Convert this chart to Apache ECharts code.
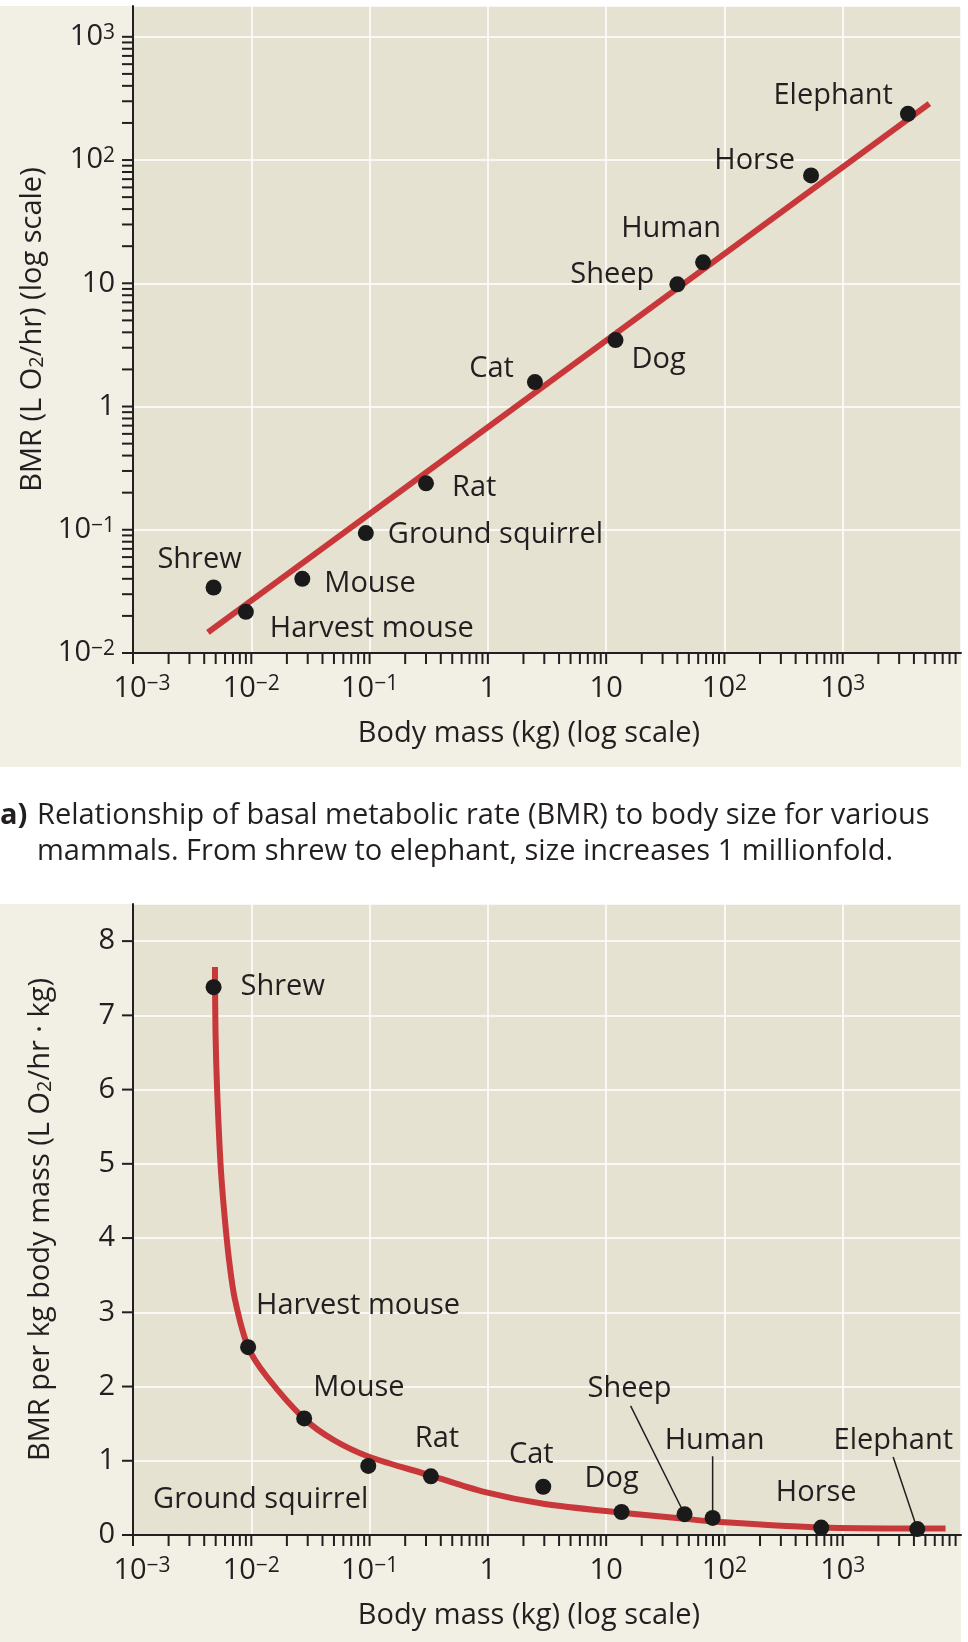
<!DOCTYPE html>
<html>
<head>
<meta charset="utf-8">
<title>BMR vs body mass</title>
<script src="https://cdn.jsdelivr.net/npm/echarts@6/dist/echarts.min.js"></script>
<style>
  html, body { margin: 0; padding: 0; background: #fff; }
  #chart { width: 968px; height: 1642px; }
</style>
</head>
<body>
<div id="chart"></div>
<script>
// animals, same order in both panels
const animals = ['Shrew', 'Harvest mouse', 'Mouse', 'Ground squirrel', 'Rat', 'Cat', 'Dog', 'Sheep', 'Human', 'Horse', 'Elephant'];

// panel a: body mass (kg) and BMR (L O2/hr)
const massA = [0.0048, 0.009, 0.027, 0.093, 0.30, 2.5, 12, 40, 66, 540, 3560];
const bmrA = [0.034, 0.0216, 0.040, 0.094, 0.238, 1.58, 3.46, 9.8, 14.8, 75, 237];
// fitted straight line (ends)
const fitMassA = [0.0043, 5400];
const fitBmrA = [0.0147, 287];

// panel b: BMR per kg body mass
const massB = [0.0048, 0.0094, 0.028, 0.0975, 0.33, 2.94, 13.5, 46, 79.5, 658, 4270];
const bmrPerKgB = [7.38, 2.53, 1.57, 0.93, 0.79, 0.65, 0.31, 0.28, 0.23, 0.10, 0.08];
// red curve
const curveMassB = [0.00493, 0.00498, 0.00513, 0.00549, 0.00588, 0.00648, 0.00728, 0.0094, 0.0135, 0.0279, 0.0493, 0.0975, 0.33, 0.93, 2.94, 13.5, 46, 79.5, 658, 4270, 7400];
const curveValB = [7.65, 6.80, 6.04, 5.01, 4.38, 3.71, 3.17, 2.53, 2.135, 1.569, 1.283, 1.058, 0.80, 0.58, 0.42, 0.30, 0.219, 0.183, 0.102, 0.089, 0.089];

// axis tick labels
const decadeExp = [-3, -2, -1, 0, 1, 2, 3];
const decadeText = ['10{s|\u22123}', '10{s|\u22122}', '10{s|\u22121}', '1', '10', '10{s|2}', '10{s|3}'];
const linTicksB = [0, 1, 2, 3, 4, 5, 6, 7, 8];

// label placement: [align, dx, dy] from the dot centre
const labelPosA = {
  'Shrew': ['center', -14, -30],
  'Harvest mouse': ['left', 24, 15],
  'Mouse': ['left', 22, 3],
  'Ground squirrel': ['left', 22, 0],
  'Rat': ['left', 26, 2],
  'Cat': ['right', -21, -15],
  'Dog': ['left', 16, 18],
  'Sheep': ['right', -23, -12],
  'Human': ['center', -32, -36],
  'Horse': ['right', -16, -17],
  'Elephant': ['right', -15, -20]
};
const labelPosB = {
  'Shrew': ['left', 27, -2],
  'Harvest mouse': ['left', 8, -43],
  'Mouse': ['left', 9, -33],
  'Ground squirrel': ['right', 0, 32],
  'Rat': ['center', 6, -40],
  'Cat': ['center', -12, -34],
  'Dog': ['center', -10, -35],
  'Sheep': ['center', -55, -127],
  'Human': ['center', 2, -79],
  'Horse': ['center', -5, -37],
  'Elephant': ['center', -24, -90]
};
// leader lines in panel b: [start near label, animal]
const leadersB = [
  [[16.1, 1.74], 'Sheep'],
  [[79.5, 1.06], 'Human'],
  [[2670, 1.05], 'Elephant']
];

const FONT = "'Open Sans', 'Noto Sans', sans-serif";
const INK = '#231f20';
const RED = '#c8373a';
const PLOT_BG = '#e6e2d1';
const PANEL_BG = '#f2efe4';
const FS = 29;
const DOT = 16;

function expOf(v) {
  const e = Math.log10(v);
  const r = Math.round(e);
  return Math.abs(e - r) < 1e-6 ? r : null;
}
function logLabel(v, pad) {
  const e = expOf(v);
  const i = decadeExp.indexOf(e);
  if (e === null || i < 0) return '';
  return (pad && e === -3 ? '{p| }' : '') + decadeText[i];
}
// 1..9 x 10^e for each decade, plus optional closing decade
function logTickVals(fromExp, toExp, closeDecade) {
  const out = [];
  for (let e = fromExp; e < toExp; e++) {
    for (let k = 1; k <= 9; k++) out.push(k * Math.pow(10, e));
  }
  if (closeDecade) out.push(Math.pow(10, toExp));
  return out;
}

const labelRich = {
  s: { fontSize: 21, lineHeight: 14, verticalAlign: 'top', fontFamily: FONT, color: INK },
  p: { width: 18, fontSize: 20 }
};
const nameRich = {
  sub: { fontSize: 20, lineHeight: 16, verticalAlign: 'bottom', fontFamily: FONT, color: INK }
};

function logXAxis(gi) {
  return {
    type: 'log', logBase: 10, gridIndex: gi, min: 0.001, max: 10000,
    axisLine: { show: true, onZero: false, lineStyle: { color: INK, width: 2 } },
    axisTick: { show: false },
    splitLine: { show: true, lineStyle: { color: '#ffffff', width: 1.5 } },
    axisLabel: {
      margin: 21, fontSize: FS, lineHeight: 29, color: INK, fontFamily: FONT,
      formatter: (v) => logLabel(v, true), rich: labelRich
    },
    name: 'Body mass (kg) (log scale)', nameLocation: 'middle', nameGap: 66,
    nameTextStyle: { fontSize: FS, color: INK, fontFamily: FONT, padding: [0, 36, 0, 0] }
  };
}

function labelOpt(p) {
  return {
    show: true, formatter: '{b}', position: [DOT / 2 + p[1], DOT / 2 + p[2] + 2],
    align: p[0], verticalAlign: 'middle', opacity: 1,
    fontSize: FS, color: INK, fontFamily: FONT
  };
}

function tickSeries(xi, yi, data, vertical) {
  return {
    type: 'scatter', xAxisIndex: xi, yAxisIndex: yi, data: data,
    symbol: 'rect', symbolSize: vertical ? [11, 2] : [2, 11],
    symbolOffset: vertical ? [-5.5, 0] : [0, 5.5],
    itemStyle: { color: INK, opacity: 1 }, silent: true, clip: false, z: 6, animation: false
  };
}

const xTicks = logTickVals(-3, 4, false);
const yTicksA = logTickVals(-2, 3, true);

const series = [
  // panel a
  {
    type: 'line', xAxisIndex: 0, yAxisIndex: 0,
    data: fitMassA.map((m, i) => [m, fitBmrA[i]]),
    symbol: 'none', lineStyle: { color: RED, width: 6 }, z: 2, silent: true
  },
  {
    type: 'scatter', xAxisIndex: 0, yAxisIndex: 0,
    data: animals.map((n, i) => ({ name: n, value: [massA[i], bmrA[i]], label: labelOpt(labelPosA[n]) })),
    symbol: 'circle', symbolSize: DOT, itemStyle: { color: '#1a1a1a', opacity: 1 }, z: 4, clip: false
  },
  tickSeries(0, 0, xTicks.map((v) => [v, 0.01]), false),
  tickSeries(0, 0, yTicksA.map((v) => [0.001, v]), true),
  // panel b
  {
    type: 'line', xAxisIndex: 1, yAxisIndex: 1,
    data: curveMassB.map((m, i) => [m, curveValB[i]]),
    symbol: 'none', smooth: 0.3,
    lineStyle: { color: RED, width: 6 }, z: 2, silent: true
  }
];
leadersB.forEach((ld) => {
  const i = animals.indexOf(ld[1]);
  series.push({
    type: 'line', xAxisIndex: 1, yAxisIndex: 1,
    data: [ld[0], [massB[i], bmrPerKgB[i]]],
    symbol: 'none', lineStyle: { color: INK, width: 1.5 }, z: 3, silent: true
  });
});
series.push(
  {
    type: 'scatter', xAxisIndex: 1, yAxisIndex: 1,
    data: animals.map((n, i) => ({ name: n, value: [massB[i], bmrPerKgB[i]], label: labelOpt(labelPosB[n]) })),
    symbol: 'circle', symbolSize: DOT, itemStyle: { color: '#1a1a1a', opacity: 1 }, z: 4, clip: false
  },
  tickSeries(1, 1, xTicks.map((v) => [v, 0]), false),
  tickSeries(1, 1, linTicksB.map((v) => [0.001, v]), true)
);

const option = {
  backgroundColor: '#ffffff',
  animation: false,
  textStyle: { fontFamily: FONT },
  graphic: {
    elements: [
      { type: 'rect', z: -10, silent: true, shape: { x: 0, y: 6, width: 961, height: 761 }, style: { fill: PANEL_BG } },
      { type: 'rect', z: -10, silent: true, shape: { x: 0, y: 904, width: 961, height: 738 }, style: { fill: PANEL_BG } },
      {
        type: 'text', z: 10, silent: true,
        style: { x: 0, y: 816, text: 'a)', font: 'bold 29px ' + FONT, fill: INK, textVerticalAlign: 'middle', verticalAlign: 'middle' }
      },
      {
        type: 'text', z: 10, silent: true,
        style: { x: 37, y: 816, text: 'Relationship of basal metabolic rate (BMR) to body size for various', font: '29px ' + FONT, fill: INK, textVerticalAlign: 'middle', verticalAlign: 'middle' }
      },
      {
        type: 'text', z: 10, silent: true,
        style: { x: 37, y: 852, text: 'mammals. From shrew to elephant, size increases 1 millionfold.', font: '29px ' + FONT, fill: INK, textVerticalAlign: 'middle', verticalAlign: 'middle' }
      }
    ]
  },
  grid: [
    { left: 133, top: 6, width: 828, height: 647, show: true, backgroundColor: PLOT_BG, borderWidth: 0 },
    { left: 133, top: 904, width: 828, height: 631, show: true, backgroundColor: PLOT_BG, borderWidth: 0 }
  ],
  xAxis: [logXAxis(0), logXAxis(1)],
  yAxis: [
    {
      type: 'log', logBase: 10, gridIndex: 0, min: 0.01, max: Math.pow(10, 3.25),
      axisLine: { show: true, lineStyle: { color: INK, width: 2 } },
      axisTick: { show: false },
      splitLine: { show: true, lineStyle: { color: '#ffffff', width: 1.5 } },
      axisLabel: {
        margin: 18, fontSize: FS, lineHeight: 29, color: INK, fontFamily: FONT,
        formatter: (v) => logLabel(v, false), rich: labelRich
      },
      name: 'BMR (L O{sub|2}/hr) (log scale)', nameLocation: 'middle', nameGap: 70,
      nameTextStyle: { fontSize: FS, color: INK, fontFamily: FONT, rich: nameRich }
    },
    {
      type: 'value', gridIndex: 1, min: 0, max: 8.5, interval: 1,
      axisLine: { show: true, lineStyle: { color: INK, width: 2 } },
      axisTick: { show: false },
      splitLine: { show: true, lineStyle: { color: '#ffffff', width: 1.5 } },
      axisLabel: {
        margin: 18, fontSize: FS, color: INK, fontFamily: FONT,
        formatter: (v) => (Number.isInteger(v) ? String(v) : '')
      },
      name: 'BMR per kg body mass (L O{sub|2}/hr \u00b7 kg)', nameLocation: 'middle', nameGap: 78,
      nameTextStyle: { fontSize: FS, color: INK, fontFamily: FONT, rich: nameRich }
    }
  ],
  series: series
};

const chart = echarts.init(document.getElementById('chart'));
chart.setOption(option);
</script>
</body>
</html>
